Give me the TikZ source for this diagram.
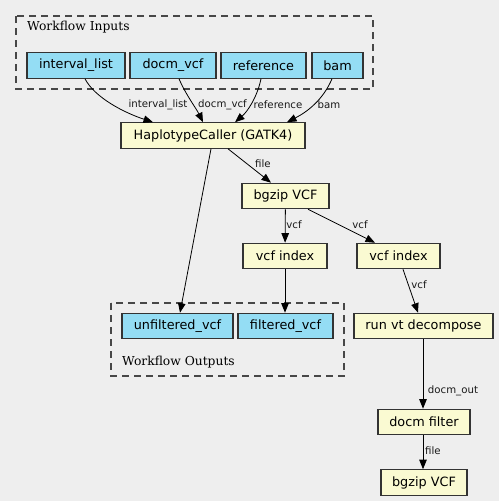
\documentclass[tikz,border=0pt]{standalone}
\usepackage{fontspec}
\setmainfont{DejaVu Sans}
\newfontfamily\serifx{DejaVu Serif}
\usetikzlibrary{arrows.meta}
\definecolor{bg}{HTML}{EEEEEE}
\definecolor{inblue}{HTML}{94DDF4}
\definecolor{stepy}{HTML}{FAFAD2}
\definecolor{bord}{HTML}{333333}
\tikzset{
  box/.style={draw=bord, line width=1.1pt, inner sep=0pt, minimum height=25.5pt, font=\fontsize{12.8}{14}\selectfont},
  inbox/.style={box, fill=inblue},
  stepbox/.style={box, fill=stepy},
  elabel/.style={inner sep=0pt, font=\fontsize{10.2}{11}\selectfont, text=black!90},
  cluster/.style={draw=bord!90, dash pattern=on 7pt off 5pt, line width=1.2pt},
  clabel/.style={inner sep=0pt, anchor=west, font=\serifx\fontsize{12.3}{13}\selectfont},
  edge/.style={line width=0.8pt, -{Triangle[length=9.5pt,width=7.5pt]}},
}
\begin{document}
\begin{tikzpicture}[x=1pt,y=-1pt]
\fill[bg] (0,0) rectangle (499,501);
\useasboundingbox (0,0) rectangle (499,501);
% clusters
\draw[cluster] (16,16) rectangle (373,89);
\node[clabel] (inlab) at (27,27.5) {Workflow Inputs};
\draw[cluster] (111,303) rectangle (344,376);
\node[clabel] (outlab) at (122,362) {Workflow Outputs};
% inputs
\node[inbox, minimum width=98pt] (il) at (76,65.5) {interval\_list};
\node[inbox, minimum width=86pt] (dv) at (173,65.5) {docm\_vcf};
\node[inbox, minimum width=85pt] (ref) at (263.5,65.5) {reference};
\node[inbox, minimum width=51pt] (bam) at (337.5,65.5) {bam};
% steps
\node[stepbox, minimum width=184pt] (hc) at (213,135.5) {HaplotypeCaller (GATK4)};
\node[stepbox, minimum width=87pt] (bg1) at (285.5,196) {bgzip VCF};
\node[stepbox, minimum width=84pt] (vi1) at (285,256) {vcf index};
\node[stepbox, minimum width=83pt] (vi2) at (398.5,256) {vcf index};
\node[stepbox, minimum width=139pt] (vt) at (423.5,326) {run vt decompose};
\node[stepbox, minimum width=92pt] (df) at (424,422) {docm filter};
\node[stepbox, minimum width=86pt] (bg2) at (424,482.5) {bgzip VCF};
% outputs
\node[inbox, minimum width=111pt] (uf) at (177.5,326) {unfiltered\_vcf};
\node[inbox, minimum width=95pt] (fv) at (285.5,326) {filtered\_vcf};
% edges
\draw[edge] (il.south -| 85,0) .. controls (95,98) and (125,113) .. (hc.north -| 153,0);
\draw[edge] (dv.south -| 179,0) .. controls (186,95) and (196,108) .. (hc.north -| 203,0);
\draw[edge] (ref.south -| 261,0) .. controls (257,98) and (247,112) .. (hc.north -| 235,0);
\draw[edge] (bam.south -| 332,0) .. controls (323,100) and (307,112) .. (hc.north -| 287,0);
\draw[edge] (hc.south -| 228,0) -- (bg1.north -| 271,0);
\draw[edge] (hc.south -| 211,0) -- (uf.north -| 180,0);
\draw[edge] (bg1) -- (vi1);
\draw[edge] (bg1.south -| 308,0) -- (vi2.north -| 375,0);
\draw[edge] (vi1) -- (fv.north -| vi1);
\draw[edge] (vi2.south -| 403,0) -- (vt.north -| 418,0);
\draw[edge] (vt.south -| 423,0) -- (df.north -| 423,0);
\draw[edge] (df.south -| 423,0) -- (bg2.north -| 423,0);
% edge labels
\node[elabel] (l1) at (158,104.5) {interval\_list};
\node[elabel] (l2) at (222.5,104.5) {docm\_vcf};
\node[elabel] (l3) at (278,104.5) {reference};
\node[elabel] (l4) at (329,104.5) {bam};
\node[elabel] (l5) at (263,164) {file};
\node[elabel] (l6) at (294,225) {vcf};
\node[elabel] (l7) at (360,225) {vcf};
\node[elabel] (l8) at (419,285) {vcf};
\node[elabel] (l9) at (453,391) {docm\_out};
\node[elabel] (l10) at (433,451) {file};
\end{tikzpicture}
\end{document}
